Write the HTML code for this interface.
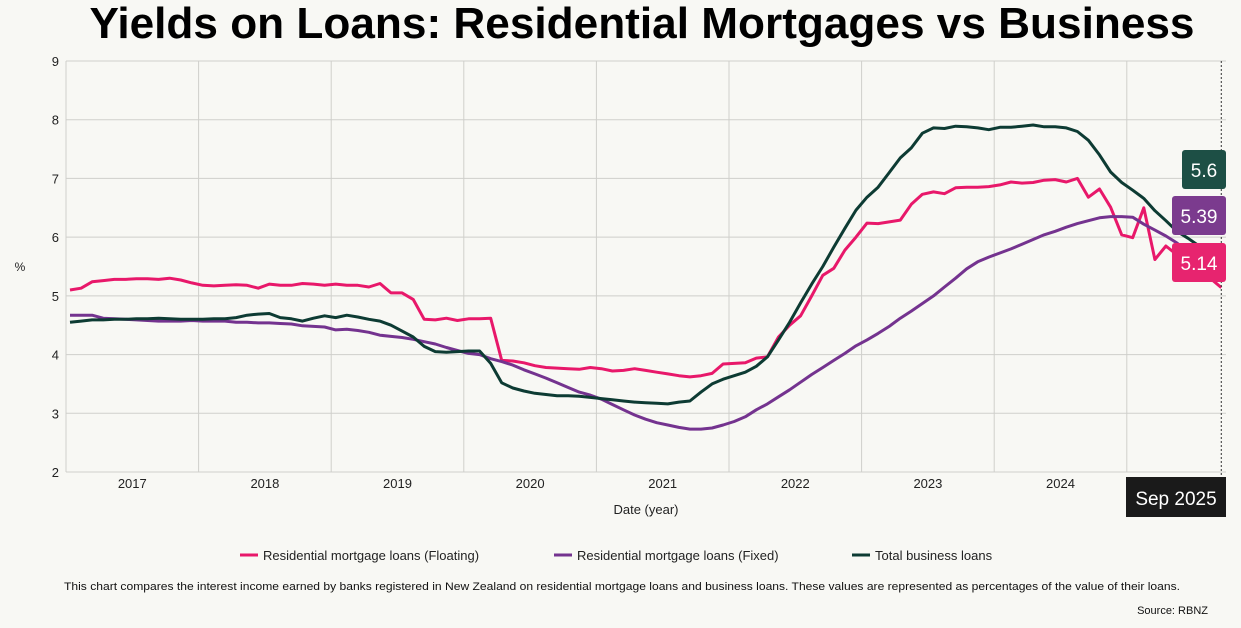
<!DOCTYPE html>
<html><head><meta charset="utf-8"><style>
html,body{margin:0;padding:0;background:#f8f8f4;}
svg{display:block;font-family:"Liberation Sans",sans-serif;}
</style></head><body>
<svg id="chart" width="1241" height="628" viewBox="0 0 1241 628" xmlns="http://www.w3.org/2000/svg">
<rect x="0" y="0" width="1241" height="628" fill="#f8f8f4"/>
<text x="642" y="38" text-anchor="middle" font-size="44" font-weight="bold" fill="#000" textLength="1105" lengthAdjust="spacingAndGlyphs">Yields on Loans: Residential Mortgages vs Business</text>
<g id="grid"></g>
<g id="series"></g>
<g id="labels"></g>
<text x="20" y="271" text-anchor="middle" font-size="12" fill="#222">%</text>
<text x="646" y="514" text-anchor="middle" font-size="13" fill="#222">Date (year)</text>
<g font-size="13" fill="#222">
<g><line x1="240" y1="555" x2="258" y2="555" stroke="#e8186a" stroke-width="3"/><text x="263" y="560">Residential mortgage loans (Floating)</text></g>
<g><line x1="554" y1="555" x2="572" y2="555" stroke="#74338f" stroke-width="3"/><text x="577" y="560">Residential mortgage loans (Fixed)</text></g>
<g><line x1="852" y1="555" x2="870" y2="555" stroke="#0d3b33" stroke-width="3"/><text x="875" y="560">Total business loans</text></g>
</g>
<text x="622" y="590" text-anchor="middle" font-size="11" fill="#111" textLength="1116" lengthAdjust="spacingAndGlyphs">This chart compares the interest income earned by banks registered in New Zealand on residential mortgage loans and business loans. These values are represented as percentages of the value of their loans.</text>
<text x="1208" y="614" text-anchor="end" font-size="11" fill="#111">Source: RBNZ</text>
</svg>
<script>
const startYear = 2017;
const yTicks = [2,3,4,5,6,7,8,9];
const xYears = [2017,2018,2019,2020,2021,2022,2023,2024,2025];
const floating = [5.10,5.13,5.24,5.26,5.28,5.28,5.29,5.29,5.28,5.30,5.27,5.22,
5.18,5.17,5.18,5.19,5.18,5.13,5.20,5.18,5.18,5.21,5.20,5.18,
5.20,5.18,5.18,5.15,5.21,5.05,5.05,4.94,4.60,4.59,4.62,4.58,
4.61,4.61,4.62,3.90,3.89,3.86,3.81,3.78,3.77,3.76,3.75,3.78,
3.76,3.72,3.73,3.76,3.73,3.70,3.67,3.64,3.62,3.64,3.68,3.84,
3.85,3.86,3.94,3.96,4.30,4.50,4.66,5.00,5.35,5.47,5.78,6.00,
6.24,6.23,6.26,6.29,6.56,6.73,6.77,6.74,6.84,6.85,6.85,6.86,
6.89,6.94,6.92,6.93,6.97,6.98,6.94,7.00,6.68,6.82,6.51,6.04,
5.99,6.50,5.62,5.85,5.70,5.60,5.45,5.30,5.14];
const fixed = [4.67,4.67,4.67,4.62,4.61,4.60,4.59,4.58,4.57,4.57,4.57,4.58,
4.57,4.57,4.57,4.55,4.55,4.54,4.54,4.53,4.52,4.49,4.48,4.47,
4.42,4.43,4.41,4.38,4.33,4.31,4.29,4.26,4.22,4.18,4.12,4.07,
4.02,4.00,3.93,3.88,3.82,3.74,3.67,3.60,3.52,3.44,3.36,3.31,
3.24,3.15,3.06,2.97,2.90,2.84,2.80,2.76,2.73,2.73,2.75,2.80,
2.86,2.94,3.06,3.16,3.28,3.40,3.53,3.66,3.78,3.90,4.02,4.15,
4.25,4.36,4.48,4.62,4.74,4.87,5.00,5.15,5.30,5.46,5.58,5.66,
5.73,5.80,5.88,5.96,6.04,6.10,6.17,6.23,6.28,6.33,6.35,6.35,
6.34,6.22,6.12,6.02,5.90,5.75,5.62,5.50,5.39];
const business = [4.55,4.57,4.59,4.59,4.60,4.60,4.61,4.61,4.62,4.61,4.60,4.60,
4.60,4.61,4.61,4.63,4.67,4.69,4.70,4.63,4.61,4.57,4.62,4.66,
4.63,4.67,4.64,4.60,4.57,4.50,4.40,4.30,4.14,4.05,4.04,4.05,
4.06,4.06,3.85,3.52,3.43,3.38,3.34,3.32,3.30,3.30,3.29,3.27,
3.25,3.23,3.21,3.19,3.18,3.17,3.16,3.19,3.21,3.36,3.50,3.58,
3.64,3.70,3.80,3.96,4.25,4.55,4.88,5.20,5.50,5.83,6.15,6.46,
6.68,6.85,7.10,7.35,7.52,7.77,7.86,7.85,7.89,7.88,7.86,7.83,
7.87,7.87,7.89,7.91,7.88,7.88,7.86,7.80,7.65,7.40,7.11,6.93,
6.80,6.66,6.45,6.28,6.10,5.98,5.85,5.72,5.60];
const lastLabel = "Sep 2025";

const NS = "http://www.w3.org/2000/svg";
const L = 66, R = 1226, T = 61, B = 472;
const yearW = 132.6;
function xScale(i){ return 70 + i * 11.07; }
function yScale(v){ return B - (v - 2) * (B - T) / 7; }
function mk(tag, attrs, parent){ const e = document.createElementNS(NS, tag); for (const k in attrs) e.setAttribute(k, attrs[k]); parent.appendChild(e); return e; }
const grid = document.getElementById('grid');
yTicks.forEach(t => {
  const ln = mk('line', {x1:L, x2:R, y1:yScale(t), y2:yScale(t), stroke:'#cfcfcb', 'stroke-width':1}, grid);
  
  
  const tx = mk('text', {x:59, y:yScale(t)+5, 'text-anchor':'end', 'font-size':13, fill:'#222'}, grid);
  tx.textContent = t;
  
  
});
xYears.forEach((yr, k) => {
  const gx = L + k * yearW;
  const ln = mk('line', {x1:gx, x2:gx, y1:T, y2:B, stroke:'#cfcfcb', 'stroke-width':1}, grid);
  
  
  const tx = mk('text', {x: yr === 2025 ? gx + 45 : gx + yearW/2, y:488, 'text-anchor':'middle', 'font-size':13, fill:'#222'}, grid);
  tx.textContent = yr;
  
  
});
const series = document.getElementById('series');
[[floating,'#e8186a','floating-line'],[fixed,'#74338f','fixed-line'],[business,'#0d3b33','business-line']].forEach(([arr,col,nm]) => {
  const d = arr.map((v,i) => (i ? 'L' : 'M') + xScale(i).toFixed(1) + ',' + yScale(v).toFixed(1)).join(' ');
  const p = mk('path', {d:d, fill:'none', stroke:col, 'stroke-width':3, 'stroke-linejoin':'round'}, series);
  
  
});
const lab = document.getElementById('labels');
const lastX = xScale(floating.length - 1);
const dl = mk('line', {x1:lastX, x2:lastX, y1:T, y2:B+4, stroke:'#333', 'stroke-width':1, 'stroke-dasharray':'2,2'}, lab);


function valBox(val, col, y, w, nm){
  const g = mk('g', {}, lab);
  
  
  mk('rect', {x:1226-w, y:y, width:w, height:39, rx:3, fill:col}, g);
  const t = mk('text', {x:1226 - w/2, y:y+27, 'text-anchor':'middle', 'font-size':19, fill:'#fff'}, g);
  t.textContent = val;
}
valBox(business[business.length-1], '#1d4f45', 150, 44, 'business-value-label');
valBox(fixed[fixed.length-1], '#7b3b8e', 196, 54, 'fixed-value-label');
valBox(floating[floating.length-1], '#e7246f', 243, 54, 'floating-value-label');
const tg = mk('g', {}, lab);


mk('rect', {x:1126, y:477, width:100, height:40, fill:'#1a1a1a'}, tg);
const tt = mk('text', {x:1176, y:505, 'text-anchor':'middle', 'font-size':19, fill:'#fff'}, tg);
tt.textContent = lastLabel;
</script>
</body></html>
